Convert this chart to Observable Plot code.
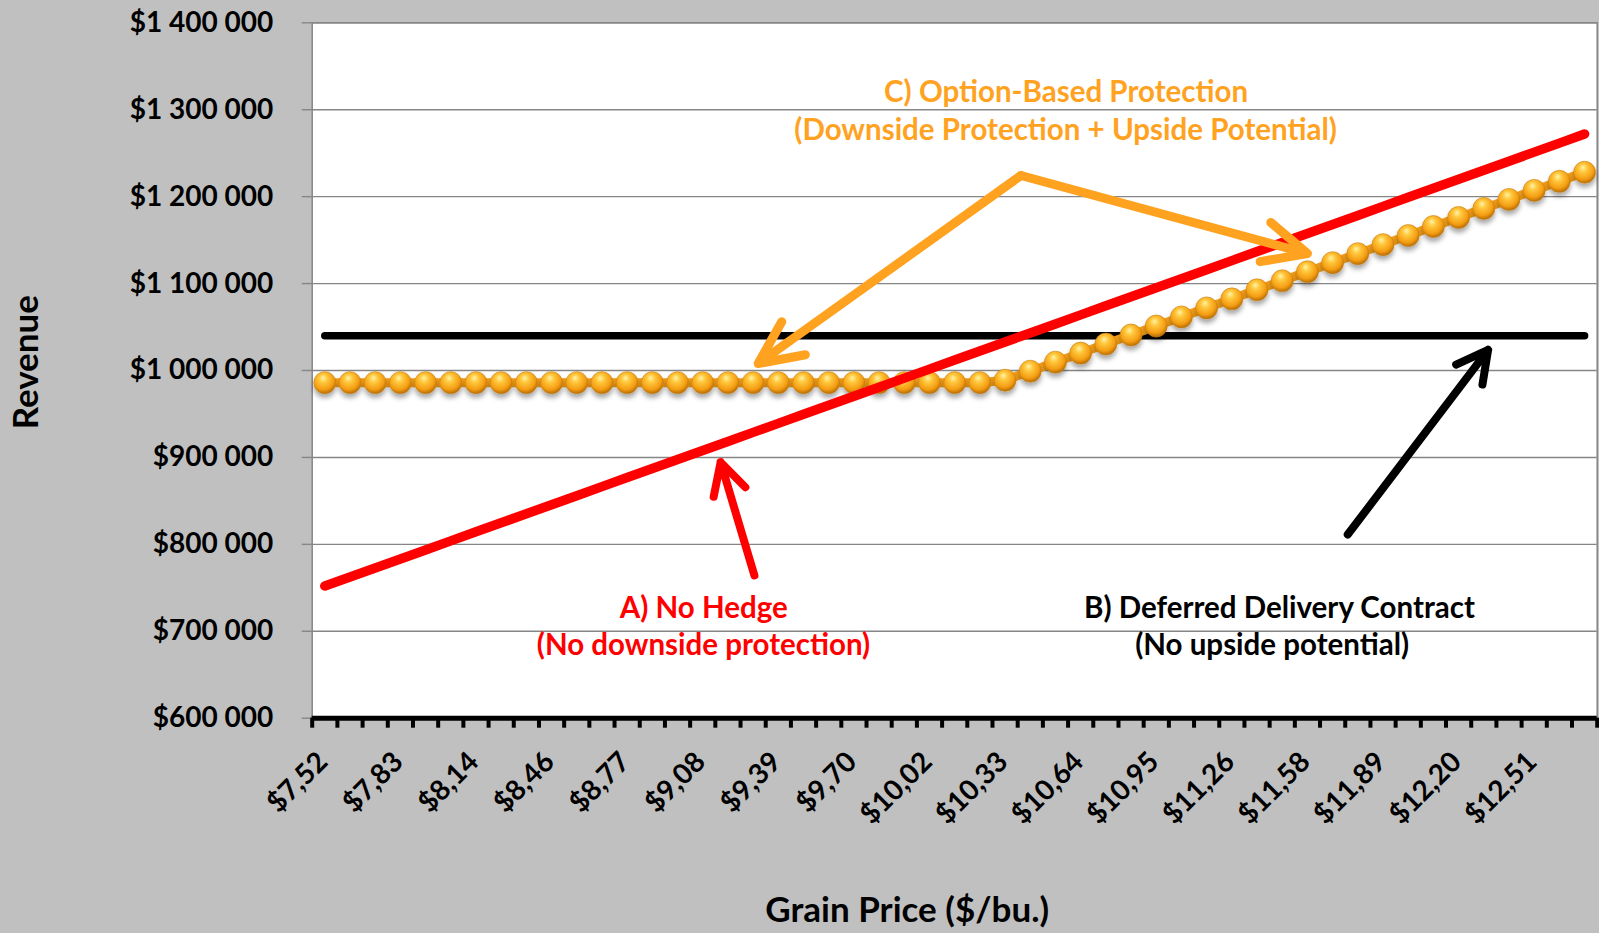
<!DOCTYPE html>
<html><head><meta charset="utf-8">
<script src="https://cdn.jsdelivr.net/npm/d3@7"></script>
<script src="https://cdn.jsdelivr.net/npm/@observablehq/plot@0.6"></script>
<style>
html,body{margin:0;padding:0;background:#c0c0c0;overflow:hidden}
#chart svg{display:block}
</style></head><body><div id="chart"></div>
<script>
// Grain price categories ($/bu.)
const prices = [7.52,7.62,7.73,7.83,7.94,8.04,8.14,8.25,8.35,8.46,8.56,8.66,8.77,8.87,8.98,9.08,9.18,9.29,9.39,9.50,9.60,9.70,9.81,9.91,10.02,10.12,10.22,10.33,10.43,10.54,10.64,10.74,10.85,10.95,11.06,11.16,11.26,11.37,11.47,11.58,11.68,11.78,11.89,11.99,12.10,12.20,12.30,12.41,12.51,12.62,12.72];
// A) No Hedge revenue
const noHedge = [752000,762400,772800,783200,793600,804000,814400,824800,835200,845600,856000,866400,876800,887200,897600,908000,918400,928800,939200,949600,960000,970400,980800,991200,1001600,1012000,1022400,1032800,1043200,1053600,1064000,1074400,1084800,1095200,1105600,1116000,1126400,1136800,1147200,1157600,1168000,1178400,1188800,1199200,1209600,1220000,1230400,1240800,1251200,1261600,1272000];
// B) Deferred Delivery Contract revenue
const deferred = [1040000,1040000,1040000,1040000,1040000,1040000,1040000,1040000,1040000,1040000,1040000,1040000,1040000,1040000,1040000,1040000,1040000,1040000,1040000,1040000,1040000,1040000,1040000,1040000,1040000,1040000,1040000,1040000,1040000,1040000,1040000,1040000,1040000,1040000,1040000,1040000,1040000,1040000,1040000,1040000,1040000,1040000,1040000,1040000,1040000,1040000,1040000,1040000,1040000,1040000,1040000];
// C) Option-Based Protection revenue
const optionBased = [986000,986000,986000,986000,986000,986000,986000,986000,986000,986000,986000,986000,986000,986000,986000,986000,986000,986000,986000,986000,986000,986000,986000,986000,986000,986000,986000,988800,999200,1009600,1020000,1030400,1040800,1051200,1061600,1072000,1082400,1092800,1103200,1113600,1124000,1134400,1144800,1155200,1165600,1176000,1186400,1196800,1207200,1217600,1228000];
// Category indexes that carry a tick label
const labelIdx = [0,3,6,9,12,15,18,21,24,27,30,33,36,39,42,45,48];
// Y ticks
const yTicks = [600000,700000,800000,900000,1000000,1100000,1200000,1300000,1400000];

// Annotation texts (position in category index / revenue units)
const notes = [
  {text: "C) Option-Based Protection", i: 29.42, v: 1320000, color: "#FFA21F"},
  {text: "(Downside Protection + Upside Potential)", i: 29.40, v: 1276400, color: "#FFA21F"},
  {text: "A) No Hedge", i: 15.04, v: 726500, color: "#FF0000"},
  {text: "(No downside protection)", i: 15.03, v: 684000, color: "#FF0000"},
  {text: "B) Deferred Delivery Contract", i: 37.89, v: 726500, color: "#000000"},
  {text: "(No upside potential)", i: 37.60, v: 684000, color: "#000000"}
];
const orangeArrows = [
  {i1: 27.63, v1: 1224300, i2: 17.20, v2: 1008000},
  {i1: 27.63, v1: 1224300, i2: 39.00, v2: 1134600}
];
const otherArrows = [
  {i1: 17.05, v1: 764200, i2: 15.71, v2: 894500, color: "#FF0000"},
  {i1: 40.60, v1: 811300, i2: 46.17, v2: 1023800, color: "#000000"}
];

const rows = prices.map((p, i) => ({i, price: p, noHedge: noHedge[i], deferred: deferred[i], optionBased: optionBased[i]}));
const boundaries = d3.range(-0.5, prices.length + 0.5, 1);
const fmtY = v => "$" + d3.format(",")(v).replace(/,/g, " ");
const fmtX = i => "$" + prices[i].toFixed(2).replace(".", ",");
const FONT = "Lato, 'Open Sans', sans-serif";
const ORANGE = "#FFA21F";

const chart = Plot.plot({
  width: 1599,
  height: 933,
  marginTop: 22.3,
  marginBottom: 215.3,
  marginLeft: 311.7,
  marginRight: 2.3,
  style: {background: "#c0c0c0", fontFamily: FONT, color: "black"},
  x: {domain: [-0.5, 50.5]},
  y: {domain: [600000, 1400000]},
  marks: [
    Plot.frame({fill: "white", stroke: "#868686", strokeWidth: 1.5}),
    Plot.ruleY(yTicks, {stroke: "#868686", strokeWidth: 1.4}),
    Plot.axisY(yTicks, {tickSize: 10, tickPadding: 29, stroke: "#868686", strokeWidth: 1.4, tickFormat: fmtY, fontSize: 28, fontWeight: "bold", fill: "black", fontFamily: FONT}),
    Plot.ruleY([600000], {stroke: "black", strokeWidth: 5}),
    Plot.axisX(boundaries, {tickSize: 10, tickFormat: () => "", stroke: "black", strokeWidth: 4}),
    Plot.text(labelIdx, {x: d => d, frameAnchor: "bottom", text: fmtX, rotate: -45, textAnchor: "end", lineAnchor: "middle", dx: -2, dy: 39, fontSize: 28, fontWeight: "bold", fill: "black", fontFamily: FONT}),
    Plot.line(rows, {x: "i", y: "deferred", stroke: "black", strokeWidth: 7.5, strokeLinecap: "round"}),
    Plot.line(rows, {x: "i", y: "optionBased", stroke: "#F6A01A", strokeWidth: 9}),
    Plot.dot(rows, {x: "i", y: "optionBased", r: 11, fill: "url(#ball)", stroke: "#C98210", strokeWidth: 0.6}),
    Plot.line(rows, {x: "i", y: "noHedge", stroke: "#FF0000", strokeWidth: 9.5, strokeLinecap: "round"}),
    Plot.arrow(orangeArrows, {x1: "i1", y1: "v1", x2: "i2", y2: "v2", stroke: ORANGE, strokeWidth: 9, headLength: 8, headAngle: 50, strokeLinecap: "round", strokeLinejoin: "miter"}),
    Plot.arrow(otherArrows, {x1: "i1", y1: "v1", x2: "i2", y2: "v2", stroke: "color", strokeWidth: 8, headLength: 6.6, headAngle: 56, strokeLinecap: "round", strokeLinejoin: "round"}),
    Plot.text(notes, {x: "i", y: "v", text: "text", fill: "color", fontSize: 29.5, fontWeight: "bold", lineAnchor: "middle", fontFamily: FONT}),
    Plot.text(["Revenue"], {frameAnchor: "left", textAnchor: "middle", rotate: -90, dx: -285.4, dy: -8.3, fontSize: 35, fontWeight: "bold", fill: "black", lineAnchor: "middle", fontFamily: FONT}),
    Plot.text(["Grain Price ($/bu.)"], {frameAnchor: "bottom", textAnchor: "middle", dx: -47.5, dy: 193, fontSize: 35, fontWeight: "bold", fill: "black", lineAnchor: "middle", fontFamily: FONT})
  ],
  color: {type: "identity"}
});

chart.insertAdjacentHTML("afterbegin", `<defs>
<radialGradient id="ball" cx="0.45" cy="0.38" r="0.62" fx="0.42" fy="0.28">
<stop offset="0" stop-color="#FFF4A8"/>
<stop offset="0.3" stop-color="#FFC83E"/>
<stop offset="0.75" stop-color="#F49C12"/>
<stop offset="1" stop-color="#B56C04"/>
</radialGradient>
<filter id="shadow" x="-50%" y="-50%" width="200%" height="200%">
<feDropShadow dx="0" dy="4" stdDeviation="2.5" flood-color="#000" flood-opacity="0.35"/>
</filter></defs>`);
const dotG = chart.querySelector('g[aria-label="dot"]');
if (dotG) dotG.setAttribute("filter", "url(#shadow)");
document.getElementById("chart").appendChild(chart);
</script>
</body></html>
